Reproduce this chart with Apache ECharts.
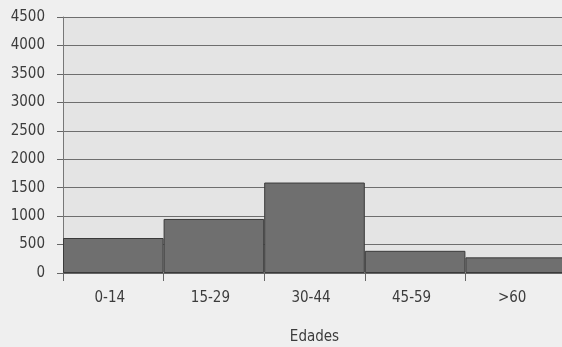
<!DOCTYPE html>
<html>
<head>
<meta charset="utf-8">
<script src="https://cdn.jsdelivr.net/npm/echarts@6/dist/echarts.min.js"></script>
<style>
  html, body { margin: 0; padding: 0; background: #efefef; }
  #chart { width: 562px; height: 347px; }
</style>
</head>
<body>
<div id="chart"></div>
<script>
// Age groups and population counts
const ageGroups = ['0-14', '15-29', '30-44', '45-59', '>60'];
const population = [615, 950, 1590, 390, 275];
const yTicks = { min: 0, max: 4500, interval: 500 };

const FONT = '"DejaVu Sans Condensed", "DejaVu Sans", sans-serif';

const chart = echarts.init(document.getElementById('chart'), null, { renderer: 'canvas' });

chart.setOption({
  backgroundColor: '#efefef',
  animation: false,
  textStyle: { fontFamily: FONT },
  grid: {
    left: 63, top: 17, width: 503, height: 256,
    outerBoundsMode: 'none',
    containLabel: false,
    show: true, backgroundColor: '#e4e4e4', borderWidth: 0
  },
  xAxis: {
    type: 'category',
    data: ageGroups,
    boundaryGap: true,
    name: 'Edades',
    nameLocation: 'middle',
    nameGap: 57,
    nameTextStyle: { color: '#3c3c3c', fontSize: 15, fontFamily: FONT },
    axisLine: { show: true, lineStyle: { color: '#666', width: 1 } },
    axisTick: { show: true, length: 8, lineStyle: { color: '#666' } },
    axisLabel: {
      color: '#3c3c3c', fontSize: 15, margin: 18, fontFamily: FONT,
      padding: [0, 7, 0, 0]
    },
    splitLine: { show: false }
  },
  yAxis: {
    type: 'value',
    min: yTicks.min, max: yTicks.max, interval: yTicks.interval,
    axisLine: { show: true, lineStyle: { color: '#777', width: 1 } },
    axisTick: { show: true, length: 6, lineStyle: { color: '#666' } },
    axisLabel: {
      color: '#3c3c3c', fontSize: 15, margin: 18, fontFamily: FONT,
      formatter: (v) => String(v)
    },
    splitLine: { show: true, lineStyle: { color: '#6e6e6e', width: 1 } }
  },
  series: [{
    type: 'bar',
    data: population,
    barCategoryGap: '0%',
    itemStyle: { color: '#6f6f6f', borderColor: '#3a3a3a', borderWidth: 1 }
  }]
});
</script>
</body>
</html>
